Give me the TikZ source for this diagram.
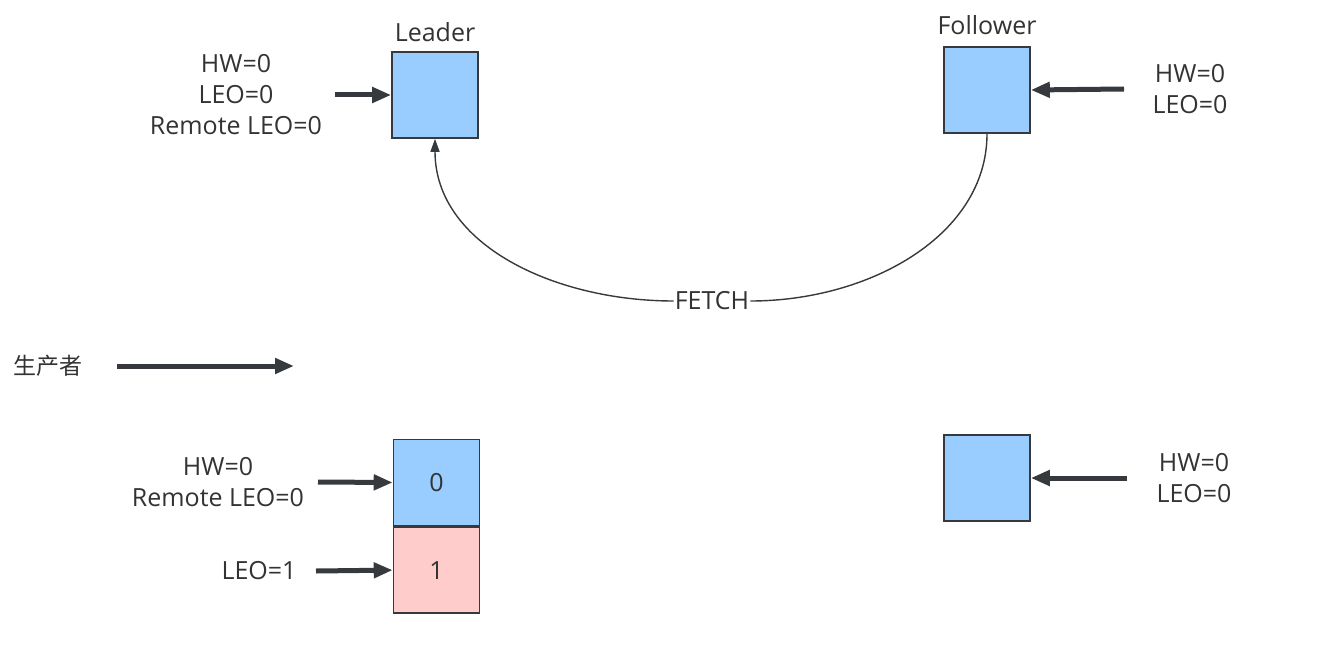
\documentclass[tikz,border=0pt]{standalone}
\usepackage{fontspec}
\setmainfont{Open Sans}
\newfontfamily\cjk{Noto Sans CJK SC}
\usetikzlibrary{arrows.meta}
\definecolor{txt}{HTML}{333333}
\definecolor{edge}{HTML}{36393D}
\definecolor{blueFill}{HTML}{99CCFF}
\definecolor{pinkFill}{HTML}{FFCCCC}
\begin{document}
\begin{tikzpicture}[x=1pt,y=-1pt,
  every node/.style={text=txt,font=\fontsize{25}{31}\selectfont},
  cell/.style={draw=edge,line width=1.6pt,minimum width=86pt,minimum height=86pt,inner sep=0pt},
  bluecell/.style={cell,fill=blueFill},
  pinkcell/.style={cell,fill=pinkFill},
  label/.style={align=center,inner sep=0pt},
  ptr/.style={draw=edge,line width=5pt,-{Triangle[length=19pt,width=15pt]}},
  fetch/.style={draw=edge,line width=1.4pt}]
\useasboundingbox (0,0) rectangle (1324,650);

% top row: leader and follower
\node[bluecell] (L) at (435,95) {};
\node[label,anchor=south] (Ltitle) at (435,42) {Leader};
\node[bluecell] (F) at (987,90) {};
\node[label,anchor=south] (Ftitle) at (987,35) {Follower};

\node[label] (Ltxt) at (236,95) {HW=0\\LEO=0\\Remote LEO=0};
\coordinate (La) at (335,95);
\draw[ptr] (La) -- (L.west);

\node[label] (Ftxt) at (1190,89) {HW=0\\LEO=0};
\coordinate (Fa) at (1124,89);
\draw[ptr] (Fa) -- (F.east);

% fetch request from follower back to leader
\node[fill=white,inner sep=1pt] (fetchlbl) at (712,301) {FETCH};
\draw[fetch] (F.south) .. controls (987,235) and (870,301) .. (fetchlbl.east);
\draw[fetch,-{Triangle[length=13pt,width=9pt]}] (fetchlbl.west) .. controls (555,301) and (435,245) .. (L.south);

% producer
\node[label,font=\cjk\fontsize{23}{30}\selectfont] (prod) at (48,366) {生产者};
\coordinate (P1) at (117,366);
\coordinate (P2) at (294,366);
\draw[ptr] (P1) -- (P2);

% bottom row: leader log and follower
\node[bluecell] (B0) at (436.5,482.5) {0};
\node[pinkcell,anchor=north] (B1) at (B0.south) {1};
\node[label] (B0txt) at (218,482) {HW=0\\Remote LEO=0};
\coordinate (B0a) at (318,482);
\draw[ptr] (B0a) -- (B0.west);
\node[label] (B1txt) at (259,571) {LEO=1};
\coordinate (B1a) at (316,571);
\draw[ptr] (B1a) -- (B1.west);

\node[bluecell] (G) at (987,478) {};
\node[label] (Gtxt) at (1194,478) {HW=0\\LEO=0};
\coordinate (Ga) at (1127,478);
\draw[ptr] (Ga) -- (G.east);
\end{tikzpicture}
\end{document}
